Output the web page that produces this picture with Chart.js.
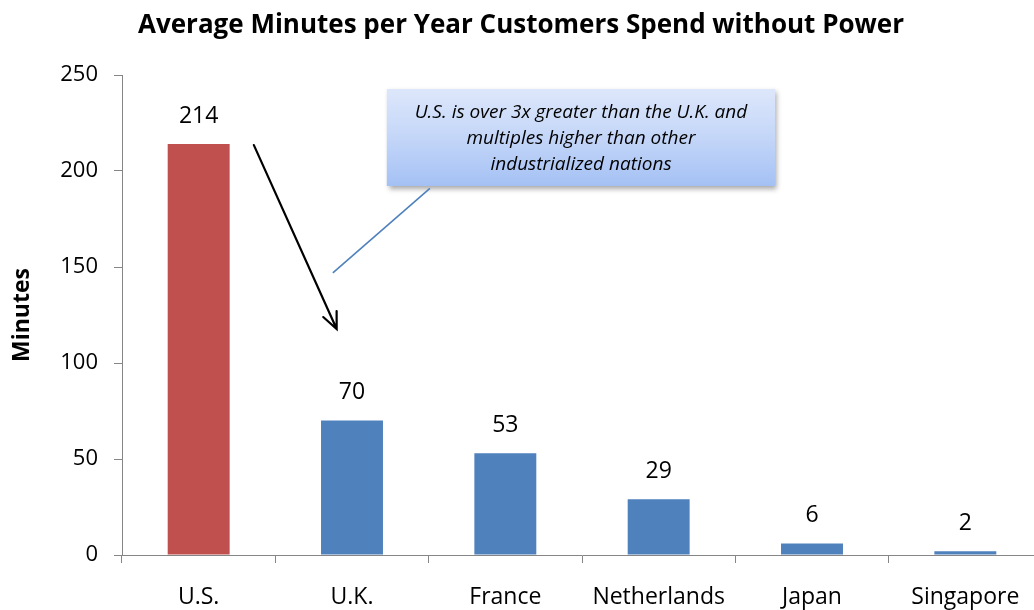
<!DOCTYPE html>
<html>
<head>
<meta charset="utf-8">
<script src="https://cdn.jsdelivr.net/npm/chart.js@4.4.1/dist/chart.umd.min.js"></script>
<style>
html,body{margin:0;padding:0;overflow:hidden;background:#fff;width:1034px;height:610px;}
canvas{display:block;}
</style>
</head>
<body>
<canvas id="c" width="1046" height="610"></canvas>
<script>
const categories = ["U.S.", "U.K.", "France", "Netherlands", "Japan", "Singapore"];
const minutes = [214, 70, 53, 29, 6, 2];
const barColors = ["#C0504D", "#4F81BD", "#4F81BD", "#4F81BD", "#4F81BD", "#4F81BD"];
const yTicks = [0, 50, 100, 150, 200, 250];
const chartTitle = "Average Minutes per Year Customers Spend without Power";
const yTitle = "Minutes";
const calloutLines = ["U.S. is over 3x greater than the U.K. and", "multiples higher than other", "industrialized nations"];

const FONT = "'Open Sans', sans-serif";

const overlay = {
  id: 'overlay',
  afterDatasetsDraw(chart) {
    const ctx = chart.ctx;
    const x = chart.scales.x, y = chart.scales.y;
    // data labels
    const meta = chart.getDatasetMeta(0);
    ctx.save();
    ctx.fillStyle = '#000';
    ctx.font = "23px " + FONT;
    ctx.textAlign = 'center';
    ctx.textBaseline = 'middle';
    meta.data.forEach((bar, i) => {
      ctx.fillText(String(minutes[i]), bar.x, bar.y - 28);
    });
    ctx.restore();

    // callout box
    const bx0 = x.getPixelForValue(1.227), bx1 = x.getPixelForValue(3.76);
    const by0 = y.getPixelForValue(242.7), by1 = y.getPixelForValue(192.2);
    ctx.save();
    ctx.shadowColor = 'rgba(0,0,0,0.35)';
    ctx.shadowBlur = 5;
    ctx.shadowOffsetX = 2;
    ctx.shadowOffsetY = 3;
    const g = ctx.createLinearGradient(0, by0, 0, by1);
    g.addColorStop(0, '#DDE7FB');
    g.addColorStop(0.5, '#C4D6F8');
    g.addColorStop(1, '#A4C1F4');
    ctx.fillStyle = g;
    ctx.fillRect(bx0, by0, bx1 - bx0, by1 - by0);
    ctx.restore();
    ctx.save();
    ctx.fillStyle = '#000';
    ctx.font = "italic 19px " + FONT;
    ctx.textAlign = 'center';
    ctx.textBaseline = 'middle';
    const cx = (bx0 + bx1) / 2;
    const midY = (by0 + by1) / 2;
    calloutLines.forEach((t, i) => {
      ctx.fillText(t, cx, midY + 1 + (i - 1) * 26);
    });
    ctx.restore();

    // callout pointer line
    ctx.save();
    ctx.strokeStyle = '#4F81BD';
    ctx.lineWidth = 1.6;
    ctx.beginPath();
    ctx.moveTo(x.getPixelForValue(1.508), y.getPixelForValue(191));
    ctx.lineTo(x.getPixelForValue(0.875), y.getPixelForValue(146.9));
    ctx.stroke();
    ctx.restore();

    // black arrow
    const ax0 = x.getPixelForValue(0.36), ay0 = y.getPixelForValue(213.5);
    const ax1 = x.getPixelForValue(0.90), ay1 = y.getPixelForValue(117.7);
    ctx.save();
    ctx.strokeStyle = '#000';
    ctx.lineWidth = 2.2;
    ctx.lineCap = 'round';
    ctx.beginPath();
    ctx.moveTo(ax0, ay0);
    ctx.lineTo(ax1, ay1);
    const ang = Math.atan2(ay1 - ay0, ax1 - ax0);
    const hl = 18, ha = 0.42;
    ctx.moveTo(ax1 - hl * Math.cos(ang - ha), ay1 - hl * Math.sin(ang - ha));
    ctx.lineTo(ax1, ay1);
    ctx.lineTo(ax1 - hl * Math.cos(ang + ha), ay1 - hl * Math.sin(ang + ha));
    ctx.stroke();
    ctx.restore();
  }
};

new Chart(document.getElementById('c'), {
  type: 'bar',
  data: {
    labels: categories,
    datasets: [{
      data: minutes,
      backgroundColor: barColors,
      borderWidth: 0,
      barPercentage: 0.404,
      categoryPercentage: 1.0
    }]
  },
  options: {
    responsive: false,
    animation: false,
    devicePixelRatio: 1,
    layout: { padding: { left: 0, right: 4, top: 0, bottom: 0 } },
    plugins: {
      legend: { display: false },
      tooltip: { enabled: false },
      title: {
        display: true,
        text: chartTitle,
        color: '#000',
        font: { family: FONT, size: 26, weight: 'bold', lineHeight: 1.2 },
        padding: { top: 10, bottom: 33.8 }
      }
    },
    scales: {
      x: {
        offset: true,
        grid: { display: true, offset: true, drawOnChartArea: false, drawTicks: true, tickLength: 8, color: '#868686', lineWidth: 1 },
        border: { display: true, color: '#868686', width: 1 },
        ticks: { color: '#000', font: { family: FONT, size: 23 }, padding: 21, maxRotation: 0, autoSkip: false },
        afterFit(s) { s.height = 55; }
      },
      y: {
        min: 0, max: 250,
        afterBuildTicks(s) { s.ticks = yTicks.map(v => ({ value: v })); },
        grid: { display: true, drawOnChartArea: false, drawTicks: true, tickLength: 8, color: '#868686' },
        border: { display: true, color: '#868686', width: 1 },
        ticks: { color: '#000', font: { family: FONT, size: 22 }, padding: 16 },
        title: { display: true, text: yTitle, color: '#000', font: { family: FONT, size: 23, weight: 'bold', lineHeight: 1.2 }, padding: { top: 9, bottom: 0 } },
        afterFit(s) { s.width = 122; }
      }
    }
  },
  plugins: [overlay]
});
</script>
</body>
</html>
